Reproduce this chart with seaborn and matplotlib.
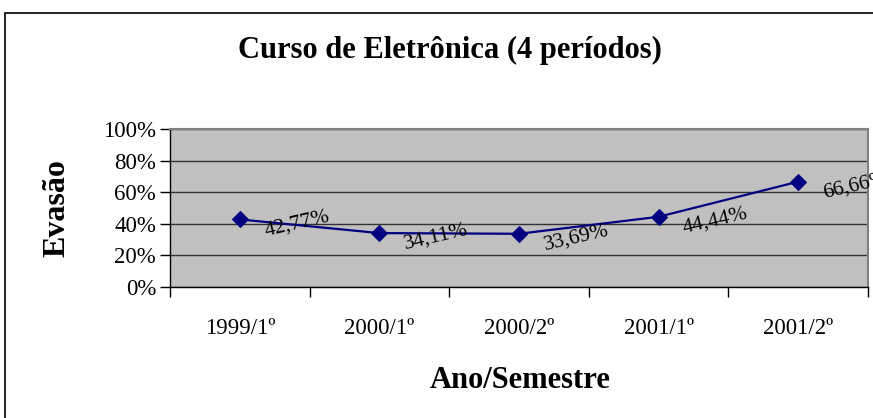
import matplotlib
matplotlib.use("Agg")
import matplotlib.pyplot as plt
import seaborn as sns
import numpy as np
import pandas as pd
from matplotlib.patches import Rectangle
from matplotlib.ticker import FuncFormatter

categories = ["1999/1º", "2000/1º", "2000/2º", "2001/1º", "2001/2º"]
evasao = [0.4277, 0.3411, 0.3369, 0.4444, 0.6666]
labels = ["42,77%", "34,11%", "33,69%", "44,44%", "66,66%"]
yticks = [0, 0.2, 0.4, 0.6, 0.8, 1.0]

sns.set_theme(style="white")
plt.rcParams["font.family"] = ["Liberation Serif", "DejaVu Serif"]
plt.rcParams["text.color"] = "black"
plt.rcParams["xtick.color"] = "black"
plt.rcParams["ytick.color"] = "black"
plt.rcParams["axes.labelcolor"] = "black"

W, H = 873, 418
fig = plt.figure(figsize=(W / 100, H / 100), dpi=100)

# outer chart frame
fig.patches.append(Rectangle((5 / W, -0.2), 1.2, 1.2 - 13 / H,
                             transform=fig.transFigure, fill=False,
                             edgecolor="black", linewidth=1.2))

ax = fig.add_axes([170 / W, 1 - 287 / H, 698 / W, 158 / H])
ax.set_facecolor("#C0C0C0")

df = pd.DataFrame({"pos": np.arange(len(categories)), "Evasão": evasao})
sns.lineplot(data=df, x="pos", y="Evasão", ax=ax, color="#000080",
             linewidth=1.6, marker="D", markersize=8, markeredgecolor="#000080")

for i, (v, lab) in enumerate(zip(evasao, labels)):
    ax.annotate(lab, (i, v), xytext=(41, -3), textcoords="offset points",
                ha="center", va="center", rotation=13, fontsize=15.5,
                color="black", annotation_clip=False)

ax.set_xlim(-0.5, len(categories) - 0.5)
ax.set_ylim(0, 1)
ax.set_yticks(yticks)
ax.yaxis.set_major_formatter(FuncFormatter(lambda v, p: f"{int(round(v*100))}%"))
ax.set_xticks(np.arange(-0.5, len(categories)))
ax.set_xticklabels([])
ax.set_xticks(np.arange(len(categories)), minor=True)
ax.set_xticklabels(categories, minor=True)
ax.tick_params(axis="x", which="major", direction="out", length=7, width=1, color="black", bottom=True)
ax.tick_params(axis="x", which="minor", length=0, pad=22, labelsize=16.5)
ax.tick_params(axis="y", direction="out", length=7, width=1, color="black", left=True, labelsize=16.5, pad=3)
ax.grid(axis="y", color="#333333", linewidth=1)
ax.grid(axis="x", visible=False)
ax.set_axisbelow(True)
for s in ["top", "right"]:
    ax.spines[s].set_color("#808080")
    ax.spines[s].set_linewidth(1.5)
for s in ["left", "bottom"]:
    ax.spines[s].set_color("black")
    ax.spines[s].set_linewidth(1)
ax.set_xlabel("")
ax.set_ylabel("")

fig.text(450 / W, 1 - 50 / H, "Curso de Eletrônica (4 períodos)", ha="center", va="center",
         fontsize=22, fontweight="bold")
fig.text(520 / W, 1 - 380 / H, "Ano/Semestre", ha="center", va="center",
         fontsize=22, fontweight="bold")
fig.text(57 / W, 1 - 208 / H, "Evasão", ha="center", va="center", rotation=90,
         fontsize=23, fontweight="bold")
# clipped text from page above
fig.text(700 / W, 1 + 5 / H, "ção e p", ha="left", va="baseline",
         fontsize=17, fontweight="bold")

fig.savefig("out.png", dpi=100)
